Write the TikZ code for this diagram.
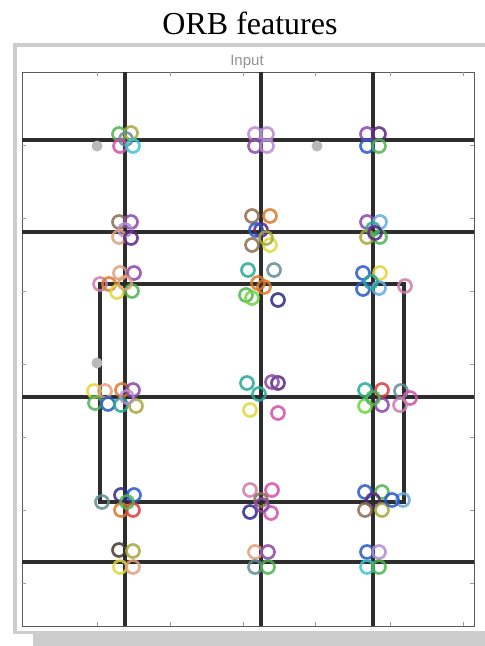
\documentclass[tikz,border=0pt]{standalone}
\usepackage{fontspec}
\setmainfont{Liberation Serif}
\newfontfamily\labelsans{Liberation Sans}
\definecolor{cA}{RGB}{80,180,80}
\definecolor{cB}{RGB}{40,170,150}
\definecolor{cC}{RGB}{60,200,210}
\definecolor{cD}{RGB}{210,80,170}
\definecolor{cE}{RGB}{140,70,170}
\definecolor{cF}{RGB}{180,140,210}
\definecolor{cG}{RGB}{90,40,130}
\definecolor{cH}{RGB}{140,110,80}
\definecolor{cI}{RGB}{225,160,125}
\definecolor{cJ}{RGB}{220,120,40}
\definecolor{cK}{RGB}{225,215,60}
\definecolor{cL}{RGB}{165,170,60}
\definecolor{cM}{RGB}{40,90,200}
\definecolor{cN}{RGB}{45,40,140}
\definecolor{cO}{RGB}{100,170,230}
\definecolor{cP}{RGB}{205,125,170}
\definecolor{cQ}{RGB}{220,60,60}
\definecolor{cR}{RGB}{110,215,60}
\definecolor{cS}{RGB}{100,140,150}
\definecolor{cT}{RGB}{70,55,50}
\definecolor{gridc}{RGB}{45,45,45}
\definecolor{axisc}{RGB}{90,90,90}
\definecolor{framec}{RGB}{205,205,205}
\tikzset{
  gridline/.style={draw=gridc,line width=3.2pt},
  ringst/.style={line width=2.7pt,opacity=0.85},
  tick/.style={draw=axisc!60,line width=0.6pt},
  greydot/.style={fill=gray!55,draw=none}
}
\begin{document}
\begin{tikzpicture}[x=1pt,y=-1pt]
\useasboundingbox (0,0) rectangle (485,646);
\fill[white] (0,0) rectangle (485,646);
% window frame and shadow
\fill[gray!40] (33,632) rectangle (485,646);
\fill[framec] (13,43) rectangle (485,634);
\fill[white] (17,47) rectangle (485,631);
\node[font=\fontsize{32}{34}\selectfont] (title) at (250,23) {ORB features};
\node[font=\labelsans\fontsize{15}{16}\selectfont,text=gray!85] (inlab) at (247,62) {Input};
% axes box
\draw[axisc,line width=1pt] (22,72) rectangle (474,626);
\foreach \t in {97,170,243,315,390,463}{
  \draw[tick] (\t,72) -- (\t,76);
  \draw[tick] (\t,626) -- (\t,622);
}
\foreach \t in {145,218,291,364,437,510,583}{
  \draw[tick] (22,\t) -- (26,\t);
  \draw[tick] (474,\t) -- (470,\t);
}
% full grid lines
\draw[gridline] (125,72) -- (125,626);
\draw[gridline] (261,72) -- (261,626);
\draw[gridline] (373,72) -- (373,626);
\foreach \yy in {140,232,397,562}{
  \draw[gridline] (22,\yy) -- (474,\yy);
}
% inner rectangle
\draw[gridline] (100,284) rectangle (404,502);
% grey blobs
\fill[greydot] (97,146) circle (5.5pt);
\fill[greydot] (317,146) circle (5.5pt);
\fill[greydot] (97,363) circle (5.5pt);
% rings
\foreach \x/\y/\c in {%
  119/134/cA, 131/133/cL, 126/139/cS, 120/146/cD, 133/146/cC,%
  255/134/cF, 267/134/cF, 255/146/cE, 267/146/cF,%
  367/134/cE, 379/134/cG, 367/146/cM, 379/146/cA,%
  119/222/cH, 131/222/cE, 125/230/cF, 119/237/cI, 131/238/cG,%
  252/216/cH, 270/216/cJ, 261/230/cG, 256/230/cM, 252/245/cH, 270/245/cK, 266/238/cL,%
  367/222/cE, 380/222/cO, 373/229/cB, 367/237/cL, 380/237/cA, 375/233/cG,%
  120/273/cI, 134/273/cE, 100/284/cP, 109/284/cJ, 117/292/cK, 132/291/cA, 125/283/cI,%
  248/270/cB, 274/270/cS, 258/283/cJ, 264/287/cJ, 246/295/cA, 252/298/cR, 278/300/cN,%
  363/273/cM, 380/273/cK, 363/289/cM, 379/288/cO, 371/282/cB, 405/286/cP,%
  94/391/cK, 105/391/cI, 95/403/cA, 108/404/cM, 122/390/cJ, 133/390/cE, 121/405/cB, 136/406/cL, 127/397/cF,%
  247/383/cB, 278/383/cG, 272/382/cE, 259/394/cB, 250/410/cK, 278/413/cD,%
  365/390/cB, 382/390/cQ, 365/406/cR, 382/405/cE, 401/391/cS, 410/398/cD, 400/405/cP, 373/398/cA,%
  102/502/cS, 121/495/cN, 134/495/cM, 121/510/cJ, 133/510/cQ, 127/502/cA,%
  250/490/cP, 272/490/cD, 261/500/cH, 250/512/cN, 271/513/cD, 262/505/cE,%
  365/492/cM, 382/492/cA, 373/500/cG, 365/510/cH, 382/510/cL, 403/500/cO, 392/500/cM,%
  119/550/cT, 133/551/cL, 120/567/cK, 133/567/cI,%
  255/552/cI, 268/552/cE, 255/567/cS, 268/567/cA,%
  367/552/cM, 379/552/cF, 367/567/cC, 379/567/cA%
}{
  \draw[ringst,draw=\c] (\x,\y) circle (6.5pt);
}
\end{tikzpicture}
\end{document}
